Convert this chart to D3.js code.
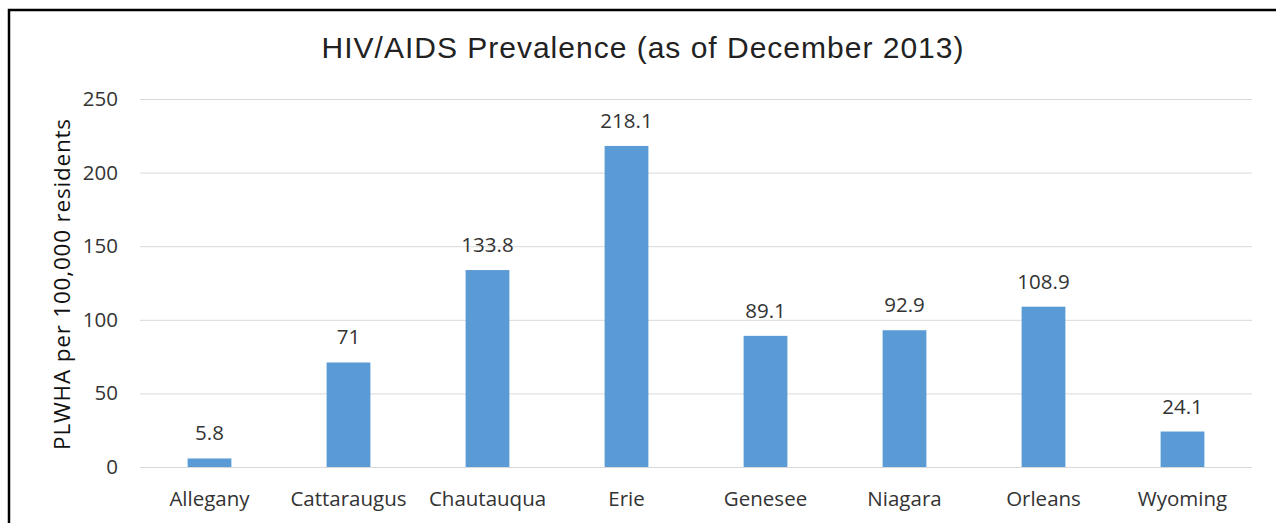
<!DOCTYPE html>
<html>
<head>
<meta charset="utf-8">
<script src="https://cdn.jsdelivr.net/npm/d3@7"></script>
<style>
  body { margin: 0; background: #fff; }
  svg { display: block; }
  .tick text { font-family: 'Open Sans', sans-serif; font-size: 20.5px; fill: #333; }
  .label { font-family: 'Open Sans', sans-serif; font-size: 20.5px; fill: #333; }
  .title { font-family: 'Liberation Sans', Arial, sans-serif; font-size: 30px; letter-spacing: 1px; fill: #222; }
  .axis-label { font-family: 'Open Sans', sans-serif; font-size: 22.5px; letter-spacing: 0.8px; fill: #111; }
</style>
</head>
<body>
<svg width="1276" height="523"></svg>
<script>
const counties = ['Allegany', 'Cattaraugus', 'Chautauqua', 'Erie', 'Genesee', 'Niagara', 'Orleans', 'Wyoming'];
const prevalence = [5.8, 71, 133.8, 218.1, 89.1, 92.9, 108.9, 24.1];
const yTicks = [0, 50, 100, 150, 200, 250];

const svg = d3.select('svg');
const width = +svg.attr('width');
const height = +svg.attr('height');

// chart frame: only the left and top edges are visible in the picture
svg.append('path')
  .attr('d', `M9,${height}V10H${width}`)
  .attr('fill', 'none').attr('stroke', '#000').attr('stroke-width', 2.5);

const margin = { top: 99, right: 24, bottom: 56, left: 140 };
const innerWidth = width - margin.left - margin.right;
const innerHeight = height - margin.top - margin.bottom;

const g = svg.append('g').attr('transform', `translate(${margin.left},${margin.top})`);

const xScale = d3.scaleBand().domain(counties).range([0, innerWidth]).paddingInner(0.685).paddingOuter(0.3425);
const yScale = d3.scaleLinear().domain([0, 250]).range([innerHeight, 0]);

const yAxis = d3.axisLeft(yScale).tickValues(yTicks).tickSize(-innerWidth).tickPadding(22);
const yAxisG = g.append('g').call(yAxis);
yAxisG.select('.domain').remove();
yAxisG.selectAll('.tick line').attr('stroke', '#d9d9d9').attr('stroke-width', 1);

const xAxis = d3.axisBottom(xScale).tickSize(0).tickPadding(24);
const xAxisG = g.append('g').attr('transform', `translate(0,${innerHeight})`).call(xAxis);
xAxisG.select('.domain').remove();

const data = counties.map((c, i) => ({ county: c, value: prevalence[i] }));

g.selectAll('.bar').data(data).enter().append('rect')
  .attr('class', 'bar')
  .attr('x', d => xScale(d.county))
  .attr('y', d => yScale(d.value))
  .attr('width', xScale.bandwidth())
  .attr('height', d => innerHeight - yScale(d.value))
  .attr('fill', '#5b9bd5');

g.selectAll('.label').data(data).enter().append('text')
  .attr('class', 'label')
  .attr('x', d => xScale(d.county) + xScale.bandwidth() / 2)
  .attr('y', d => yScale(d.value) - 18)
  .attr('text-anchor', 'middle')
  .text(d => d.value);

svg.append('text')
  .attr('class', 'title')
  .attr('x', 643).attr('y', 58)
  .attr('text-anchor', 'middle')
  .text('HIV/AIDS Prevalence (as of December 2013)');

svg.append('text')
  .attr('class', 'axis-label')
  .attr('transform', `translate(70,${284}) rotate(-90)`)
  .attr('text-anchor', 'middle')
  .text('PLWHA per 100,000 residents');
</script>
</body>
</html>
